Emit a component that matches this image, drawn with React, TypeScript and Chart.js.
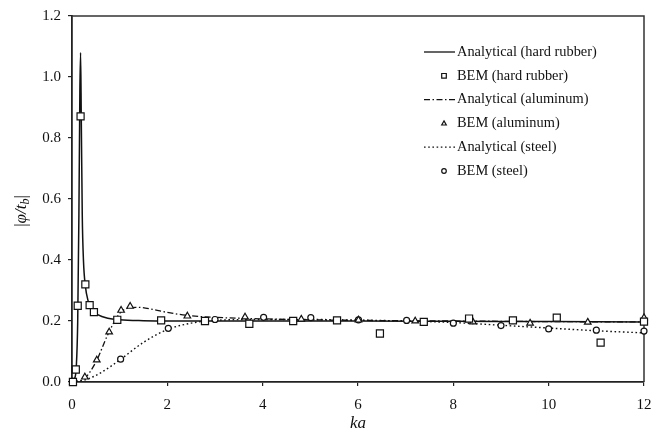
import React, { useEffect, useRef } from "react";
import { Chart, registerables } from "chart.js";

Chart.register(...registerables);

// ---- axis ticks ----
const X_TICKS = [0, 2, 4, 6, 8, 10, 12];
const Y_TICKS = [0, 0.2, 0.4, 0.6, 0.8, 1.0, 1.2];

// ---- Analytical (hard rubber) ----
const RUBBER_AN_KA = [0, 0.05, 0.09, 0.12, 0.145, 0.165, 0.18, 0.195, 0.215, 0.24, 0.28, 0.34, 0.42, 0.55, 0.75, 1.0, 1.5, 2, 4, 6, 8, 10, 12];
const RUBBER_AN_VAL = [0, 0.01, 0.05, 0.2, 0.55, 0.95, 1.08, 0.86, 0.55, 0.4, 0.315, 0.265, 0.238, 0.22, 0.209, 0.204, 0.201, 0.2, 0.2, 0.2, 0.199, 0.198, 0.197];

// ---- BEM (hard rubber) ----
const RUBBER_BEM_KA = [0.02, 0.08, 0.12, 0.18, 0.28, 0.37, 0.46, 0.95, 1.87, 2.79, 3.72, 4.64, 5.56, 6.46, 7.38, 8.33, 9.25, 10.17, 11.09, 12.0];
const RUBBER_BEM_VAL = [0.0, 0.041, 0.25, 0.871, 0.32, 0.252, 0.229, 0.204, 0.202, 0.2, 0.191, 0.2, 0.202, 0.159, 0.197, 0.208, 0.202, 0.211, 0.129, 0.198];

// ---- Analytical (aluminum) ----
const ALU_AN_KA = [0, 0.25, 0.5, 0.75, 1.0, 1.2, 1.4, 1.7, 2.0, 2.5, 3, 4, 5, 6, 8, 10, 12];
const ALU_AN_VAL = [0, 0.01, 0.065, 0.155, 0.225, 0.243, 0.245, 0.238, 0.228, 0.217, 0.212, 0.207, 0.204, 0.202, 0.2, 0.198, 0.197];

// ---- BEM (aluminum) ----
const ALU_BEM_KA = [0.02, 0.27, 0.52, 0.78, 1.03, 1.22, 2.42, 3.63, 4.81, 6.01, 7.2, 8.41, 9.61, 10.82, 12.0];
const ALU_BEM_VAL = [0.0, 0.016, 0.072, 0.164, 0.235, 0.248, 0.216, 0.213, 0.206, 0.203, 0.2, 0.197, 0.193, 0.196, 0.211];

// ---- Analytical (steel) ----
const STEEL_AN_KA = [0, 0.3, 0.6, 1.0, 1.5, 2.0, 2.5, 3.0, 4, 5, 6, 7, 8, 9, 10, 11, 12];
const STEEL_AN_VAL = [0, 0.008, 0.03, 0.072, 0.13, 0.172, 0.193, 0.202, 0.205, 0.205, 0.203, 0.2, 0.195, 0.186, 0.177, 0.168, 0.161];

// ---- BEM (steel) ----
const STEEL_BEM_KA = [0.02, 1.02, 2.02, 3.0, 4.02, 5.01, 6.01, 7.02, 8.0, 9.0, 10.0, 11.0, 12.0];
const STEEL_BEM_VAL = [0.0, 0.075, 0.176, 0.205, 0.212, 0.211, 0.204, 0.202, 0.193, 0.185, 0.174, 0.17, 0.167];

const LEGEND_LABELS = [
  "Analytical (hard rubber)",
  "BEM (hard rubber)",
  "Analytical (aluminum)",
  "BEM (aluminum)",
  "Analytical (steel)",
  "BEM (steel)",
];

const SERIF = "'Liberation Serif', 'DejaVu Serif', serif";
const INK = "#111";

const pts = (xs: number[], ys: number[]) => xs.map((x, i) => ({ x, y: ys[i] }));

const DASH_DOT = [6, 2.5, 1.5, 2.5];
const DOTTED = [1.6, 2.6];

const framePlugin = {
  id: "frame",
  beforeDatasetsDraw(chart: any) {
    const { ctx, chartArea: a } = chart;
    ctx.save();
    ctx.strokeStyle = "#333";
    ctx.lineWidth = 1.5;
    ctx.beginPath();
    ctx.moveTo(a.left, a.top);
    ctx.lineTo(a.right, a.top);
    ctx.lineTo(a.right, a.bottom);
    ctx.stroke();
    ctx.restore();
  },
};

function drawMarker(ctx: CanvasRenderingContext2D, style: string, x: number, y: number, r: number) {
  ctx.beginPath();
  if (style === "rect") {
    ctx.rect(x - r, y - r, 2 * r, 2 * r);
  } else if (style === "triangle") {
    ctx.moveTo(x, y - r * 1.1);
    ctx.lineTo(x + r, y + r * 0.7);
    ctx.lineTo(x - r, y + r * 0.7);
    ctx.closePath();
  } else {
    ctx.arc(x, y, r, 0, Math.PI * 2);
  }
  ctx.fillStyle = "#fff";
  ctx.fill();
  ctx.stroke();
}

const legendPlugin = {
  id: "customLegend",
  afterDraw(chart: any) {
    const { ctx, chartArea: a } = chart;
    const x0 = a.left + 352;
    const x1 = x0 + 31;
    const tx = x1 + 2;
    const y0 = a.top + 36;
    const step = 23.8;
    const kinds = [
      { t: "line", dash: [] as number[] },
      { t: "rect" },
      { t: "line", dash: DASH_DOT },
      { t: "triangle" },
      { t: "line", dash: DOTTED },
      { t: "circle" },
    ];
    ctx.save();
    ctx.font = `14.4px ${SERIF}`;
    ctx.textBaseline = "middle";
    ctx.textAlign = "left";
    kinds.forEach((k: any, i) => {
      const y = y0 + i * step;
      ctx.strokeStyle = INK;
      if (k.t === "line") {
        ctx.lineWidth = 1.3;
        ctx.setLineDash(k.dash);
        ctx.beginPath();
        ctx.moveTo(x0, y);
        ctx.lineTo(x1, y);
        ctx.stroke();
        ctx.setLineDash([]);
      } else {
        ctx.lineWidth = 1.2;
        drawMarker(ctx, k.t, x0 + 20, y, 2.3);
      }
      ctx.fillStyle = INK;
      ctx.fillText(LEGEND_LABELS[i], tx, y);
    });
    ctx.restore();
  },
};

const yTitlePlugin = {
  id: "yTitle",
  afterDraw(chart: any) {
    const { ctx, chartArea: a } = chart;
    const cx = 22;
    const cy = (a.top + a.bottom) / 2 + 12;
    const size = 17;
    const parts = [
      { s: "|", font: `${size}px ${SERIF}`, dy: 0 },
      { s: "\u03c6", font: `italic ${size}px ${SERIF}`, dy: 0 },
      { s: "/", font: `italic ${size}px ${SERIF}`, dy: 0 },
      { s: "t", font: `italic ${size}px ${SERIF}`, dy: 0 },
      { s: "b", font: `italic ${Math.round(size * 0.72)}px ${SERIF}`, dy: 4 },
      { s: "|", font: `${size}px ${SERIF}`, dy: 0 },
    ];
    ctx.save();
    let total = 0;
    const widths = parts.map((p) => {
      ctx.font = p.font;
      const w = ctx.measureText(p.s).width;
      total += w;
      return w;
    });
    ctx.translate(cx, cy);
    ctx.rotate(-Math.PI / 2);
    ctx.fillStyle = INK;
    ctx.textBaseline = "middle";
    ctx.textAlign = "left";
    let x = -total / 2;
    parts.forEach((p, i) => {
      ctx.font = p.font;
      ctx.fillText(p.s, x, p.dy);
      x += widths[i];
    });
    ctx.restore();
  },
};

export default function App() {
  const ref = useRef<HTMLCanvasElement | null>(null);

  useEffect(() => {
    document.body.style.margin = "0";
    const canvas = ref.current;
    if (!canvas) return;

    const lineDs = (label: string, xs: number[], ys: number[], dash: number[], w: number) => ({
      label,
      data: pts(xs, ys),
      showLine: true,
      borderColor: INK,
      borderWidth: w,
      borderDash: dash,
      pointRadius: 0,
      pointHoverRadius: 0,
      cubicInterpolationMode: "monotone" as const,
      fill: false,
      order: 2,
    });
    const markDs = (label: string, xs: number[], ys: number[], style: string, r: number) => ({
      label,
      data: pts(xs, ys),
      showLine: false,
      pointStyle: style,
      pointRadius: r,
      pointBackgroundColor: "#fff",
      pointBorderColor: INK,
      pointBorderWidth: 1.2,
      clip: false as any,
      order: 1,
    });

    const chart = new Chart(canvas, {
      type: "scatter",
      data: {
        datasets: [
          lineDs(LEGEND_LABELS[0], RUBBER_AN_KA, RUBBER_AN_VAL, [], 1.5),
          markDs(LEGEND_LABELS[1], RUBBER_BEM_KA, RUBBER_BEM_VAL, "rect", 5),
          lineDs(LEGEND_LABELS[2], ALU_AN_KA, ALU_AN_VAL, DASH_DOT, 1.3),
          markDs(LEGEND_LABELS[3], ALU_BEM_KA, ALU_BEM_VAL, "triangle", 3.8),
          lineDs(LEGEND_LABELS[4], STEEL_AN_KA, STEEL_AN_VAL, DOTTED, 1.4),
          markDs(LEGEND_LABELS[5], STEEL_BEM_KA, STEEL_BEM_VAL, "circle", 3),
        ] as any,
      },
      options: {
        animation: false,
        responsive: false,
        devicePixelRatio: 1,
        layout: { padding: { top: 14, right: 19, left: 0, bottom: 0 } },
        plugins: {
          legend: { display: false },
          tooltip: { enabled: false },
        },
        scales: {
          x: {
            type: "linear",
            min: 0,
            max: 12,
            afterBuildTicks: (s: any) => {
              s.ticks = X_TICKS.map((v) => ({ value: v }));
            },
            afterFit: (s: any) => {
              s.height = 52;
            },
            ticks: {
              font: { family: SERIF, size: 15 },
              color: INK,
              padding: 10,
              maxRotation: 0,
              callback: (v: any) => String(v),
            },
            grid: { drawOnChartArea: false, drawTicks: true, tickLength: 4, color: "#222", lineWidth: 1.2 },
            border: { display: true, color: "#222", width: 1.8 },
            title: {
              display: true,
              text: "ka",
              font: { family: SERIF, size: 17, style: "italic" },
              color: INK,
              padding: { top: 0, bottom: 0 },
            },
          },
          y: {
            type: "linear",
            min: 0,
            max: 1.2,
            afterBuildTicks: (s: any) => {
              s.ticks = Y_TICKS.map((v) => ({ value: v }));
            },
            afterFit: (s: any) => {
              s.width = 72;
            },
            ticks: {
              font: { family: SERIF, size: 15 },
              color: INK,
              padding: 7,
              callback: (v: any) => Number(v).toFixed(1),
            },
            grid: { drawOnChartArea: false, drawTicks: true, tickLength: 4, color: "#222", lineWidth: 1.2 },
            border: { display: true, color: "#222", width: 1.8 },
          },
        },
      } as any,
      plugins: [framePlugin, legendPlugin, yTitlePlugin],
    });

    return () => chart.destroy();
  }, []);

  return (
    <div style={{ position: "absolute", left: 0, top: 0, width: 663, height: 434, background: "#fff" }}>
      <canvas ref={ref} width={663} height={434} style={{ display: "block" }} />
    </div>
  );
}
